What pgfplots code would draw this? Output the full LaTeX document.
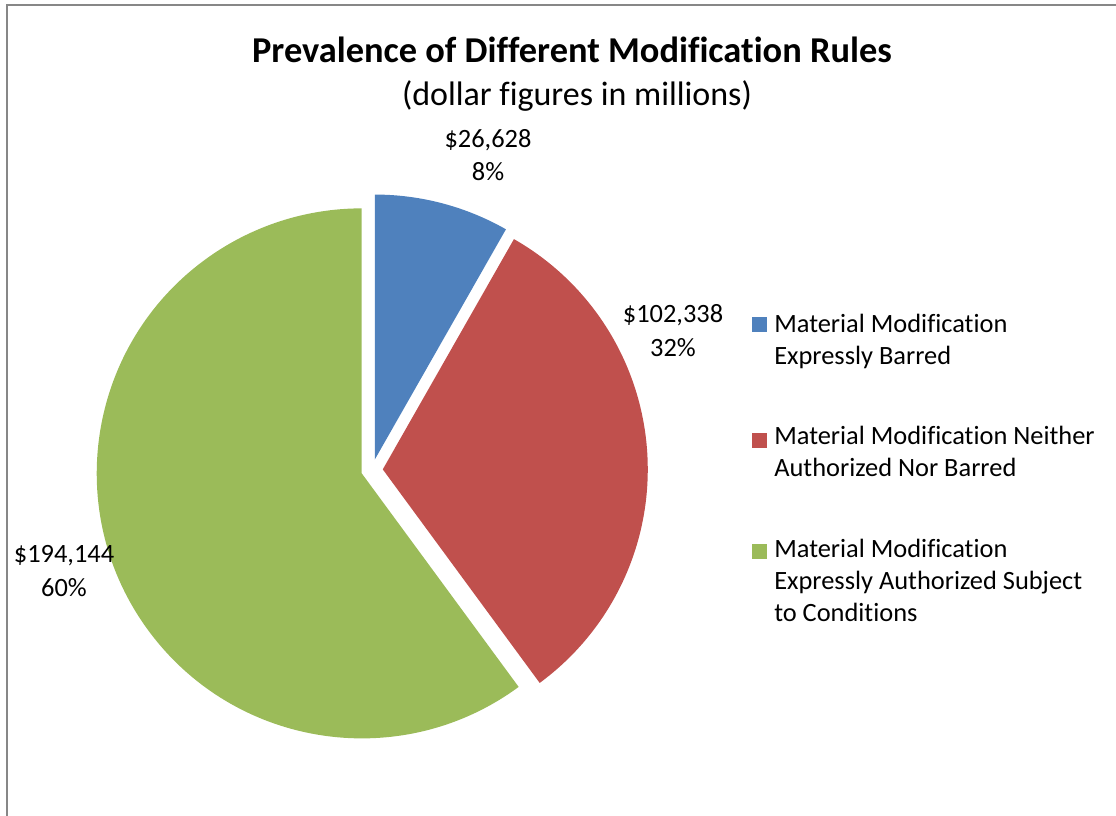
\documentclass[border=0pt]{standalone}
\usepackage{pgfplots}
\usepackage{pgfplotstable}
\pgfplotsset{compat=1.18}
\usepackage{fontspec}
\setmainfont{Carlito}[Ligatures=NoCommon]

\definecolor{sliceblue}{HTML}{4F81BD}
\definecolor{slicered}{HTML}{C0504D}
\definecolor{slicegreen}{HTML}{9BBB59}
\definecolor{framegray}{HTML}{878787}

% dollar figures in millions
\pgfplotstableread{
value
26628
102338
194144
}\piedata

\newcommand\lblfont{\fontsize{19.8}{24}\selectfont}

\begin{document}
\begin{tikzpicture}
\pgfplotstablegetelem{0}{value}\of\piedata \let\va\pgfplotsretval
\pgfplotstablegetelem{1}{value}\of\piedata \let\vb\pgfplotsretval
\pgfplotstablegetelem{2}{value}\of\piedata \let\vc\pgfplotsretval
\edef\tot{\fpeval{\va+\vb+\vc}}
% slices start at 12 o'clock and run clockwise
\edef\aA{90}
\edef\aB{\fpeval{90-360*\va/\tot}}
\edef\aC{\fpeval{\aB-360*\vb/\tot}}
\edef\aD{-270}
\edef\pA{\fpeval{round(100*\va/\tot)}}
\edef\pB{\fpeval{round(100*\vb/\tot)}}
\edef\pC{\fpeval{round(100*\vc/\tot)}}
\def\R{198.75pt}
\def\D{8.1pt}
\pgfkeys{/pgf/number format/.cd,fixed,precision=0,1000 sep={,},assume math mode=true}
\begin{axis}[
    x=0.75pt, y=0.75pt,
    xmin=0, xmax=1116, ymin=0, ymax=816,
    y dir=reverse,
    hide axis,
    clip=false,
  ]
  % frame
  \draw[framegray, line width=1.5pt] (axis cs:7,816) -- (axis cs:7,5.5) -- (axis cs:1116,5.5);

  % slices
  \fill[sliceblue] (axis cs:372,470) ++({(\aA+\aB)/2}:\D) -- ++(\aA:\R)
    arc[start angle=\aA, end angle=\aB, radius=\R] -- cycle;
  \fill[slicered] (axis cs:372,470) ++({(\aB+\aC)/2}:\D) -- ++(\aB:\R)
    arc[start angle=\aB, end angle=\aC, radius=\R] -- cycle;
  \fill[slicegreen] (axis cs:372,470) ++({(\aC+\aD)/2}:\D) -- ++(\aC:\R)
    arc[start angle=\aC, end angle=\aD, radius=\R] -- cycle;

  % title
  \node[anchor=base, font=\fontsize{27.3}{32}\selectfont\bfseries] at (axis cs:572,63)
    {Prevalence of Different Modification Rules};
  \node[anchor=base, font=\fontsize{25.5}{30}\selectfont] at (axis cs:577,106)
    {(dollar figures in millions)};

  % data labels
  \node[anchor=base, font=\lblfont] at (axis cs:488,148) {\$\pgfmathprintnumber{\va}};
  \node[anchor=base, font=\lblfont] at (axis cs:488,181) {\pA\%};
  \node[anchor=base, font=\lblfont] at (axis cs:673,323) {\$\pgfmathprintnumber{\vb}};
  \node[anchor=base, font=\lblfont] at (axis cs:673,356) {\pB\%};
  \node[anchor=base, font=\lblfont] at (axis cs:64,562) {\$\pgfmathprintnumber{\vc}};
  \node[anchor=base, font=\lblfont] at (axis cs:64,596) {\pC\%};

  % legend
  \fill[sliceblue] (axis cs:752,317) rectangle (axis cs:767,332);
  \fill[slicered] (axis cs:752,433) rectangle (axis cs:767,448);
  \fill[slicegreen] (axis cs:752,544) rectangle (axis cs:767,559);
  \node[anchor=base west, inner xsep=0pt, font=\lblfont] at (axis cs:774,332) {Material Modification};
  \node[anchor=base west, inner xsep=0pt, font=\lblfont] at (axis cs:774,364) {Expressly Barred};
  \node[anchor=base west, inner xsep=0pt, font=\lblfont] at (axis cs:774,444) {Material Modification Neither};
  \node[anchor=base west, inner xsep=0pt, font=\lblfont] at (axis cs:774,476) {Authorized Nor Barred};
  \node[anchor=base west, inner xsep=0pt, font=\lblfont] at (axis cs:774,557) {Material Modification};
  \node[anchor=base west, inner xsep=0pt, font=\lblfont] at (axis cs:774,589) {Expressly Authorized Subject};
  \node[anchor=base west, inner xsep=0pt, font=\lblfont] at (axis cs:774,621) {to Conditions};
\end{axis}
\pgfresetboundingbox
\path[use as bounding box] (current axis.south west) rectangle (current axis.north east);
\end{tikzpicture}
\end{document}
